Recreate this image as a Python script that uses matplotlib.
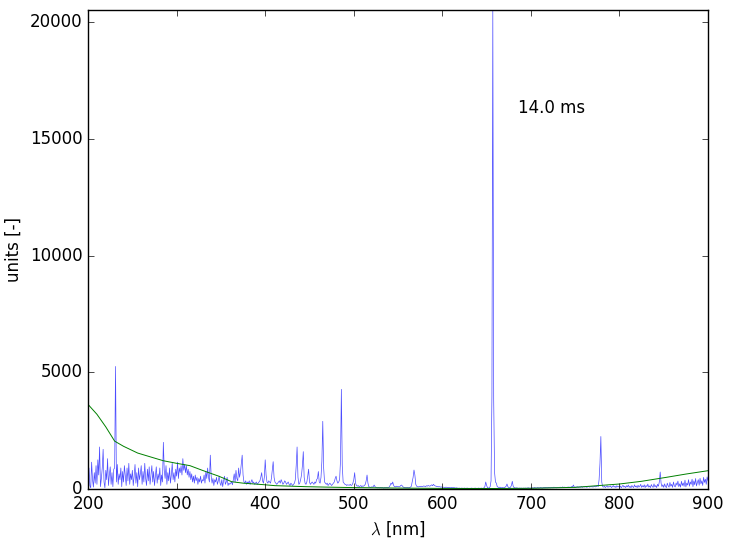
import numpy as np
import matplotlib
matplotlib.use('Agg')
import matplotlib.pyplot as plt

plt.style.use('classic')

# measured spectrum, 1 nm steps from 200 to 900 nm
counts_uv = [300, 900, 150, 50, 1150, 400, 80, 700, 250, 1000,
             200, 1250, 600, 1800, 100, 450, 900, 1700, 300, 50,
             800, 400, 1300, 150, 600, 950, 200, 700, 100, 850,
             900, 5250, 300, 1050, 200, 650, 400, 900, 100, 750,
             300, 1000, 550, 150, 900, 350, 1100, 200, 650, 400,
             800, 150, 550, 1050, 250, 700, 100, 900, 400, 650,
             1000, 200, 750, 300, 1100, 450, 150, 850, 350, 950,
             200, 600, 1000, 300, 750, 150, 550, 950, 250, 650,
             400, 900, 150, 600, 300, 2000, 800, 450, 1000, 200,
             700, 350, 900, 250, 600, 1100, 400, 700, 300, 850,
             550, 1150, 450, 900, 700, 1000, 600, 1300, 800, 1050,
             700, 1000, 600, 850, 500, 750, 400, 650, 300, 550,
             250, 600, 350, 500, 200, 450, 300, 550, 250, 400,
             350, 600, 250, 750, 450, 900, 500, 300, 1450, 550,
             250, 450, 150, 400, 300, 500, 200, 350, 550, 250,
             150, 400, 100, 350, 550, 200, 300, 500, 150, 250,
             200]
counts_vis = [250, 300, 180, 400, 650, 300, 800, 450, 350, 900,
              500, 700, 1100, 1450, 600, 300, 250, 350, 200, 300,
              250, 350, 200, 300, 400, 250, 300, 200, 250, 300,
              200, 250, 300, 350, 500, 700, 350, 250, 500, 1250,
              600, 300, 250, 350, 300, 250, 450, 800, 1170, 500,
              300, 250, 200, 250, 300, 350, 250, 400, 300, 200,
              250, 350, 300, 200, 250, 300, 200, 150, 250, 200,
              150, 200, 250, 400, 1000, 1800, 500, 200, 250, 400,
              600, 1000, 1600, 500, 250, 200, 300, 550, 850, 300,
              200, 250, 300, 250, 200, 300, 250, 400, 450, 750,
              300, 250, 500, 1200, 2900, 900, 300, 250, 200, 250,
              150, 200, 250, 200, 150, 200, 250, 300, 450, 550,
              350, 250, 300, 400, 1200, 4270, 1000, 300, 250, 200,
              200, 150, 180, 170, 160, 200, 150, 170, 250, 400,
              700, 250, 150, 120, 150, 100, 120, 150, 100, 130,
              120, 150, 200, 350, 600, 250, 100, 80, 70, 90,
              80, 100, 170, 100, 70, 60, 50, 60, 50, 60,
              50, 60, 50, 40, 60, 50, 60, 50, 70, 80,
              150, 250, 200, 300, 150, 100, 90, 120, 100, 110,
              90, 100, 150, 170, 120, 80, 60, 50, 60, 50,
              60, 50, 60, 80, 120, 300, 500, 814, 600, 200,
              120, 100, 90, 110, 100, 120, 100, 110, 130, 120,
              100, 140, 120, 150, 130, 120, 150, 180, 140, 200,
              150, 130, 120, 100, 110, 90, 100, 80, 90, 70,
              80, 70, 60, 80, 70, 60, 70, 60, 50, 60,
              60, 50, 60, 50, 40, 50, 40, 30, 40, 30,
              30, 40, 30, 30, 40, 30, 30, 40, 30, 30,
              30, 30, 40, 30, 30, 30, 40, 30, 30, 30,
              40, 30, 30, 40, 30, 30, 50, 100, 300, 150]
counts_nir = [60, 40, 50, 100, 350, 4000, 20520, 3800, 700, 300,
              250, 100, 80, 60, 80, 60, 50, 60, 50, 60,
              80, 120, 214, 100, 60, 50, 80, 150, 330, 120,
              60, 50, 40, 50, 40, 30, 40, 30, 40, 30,
              30, 40, 30, 40, 30, 40, 50, 40, 30, 40,
              40, 50, 40, 60, 50, 40, 50, 60, 40, 50,
              60, 50, 40, 60, 50, 70, 50, 60, 50, 70,
              60, 50, 70, 60, 50, 80, 60, 70, 50, 60,
              70, 60, 80, 60, 70, 90, 60, 80, 70, 60,
              80, 70, 90, 60, 80, 100, 90, 170, 80, 70,
              90, 80, 100, 70, 90, 80, 110, 70, 90, 100,
              80, 110, 70, 90, 120, 80, 100, 90, 110, 80,
              100, 120, 90, 110, 150, 100, 400, 1100, 2250, 300,
              100, 80, 120, 60, 100, 140, 70, 110, 90, 130,
              60, 100, 150, 80, 120, 60, 140, 90, 110, 70,
              130, 50, 110, 160, 80, 120, 60, 140, 90, 170,
              70, 120, 50, 150, 100, 60, 180, 90, 130, 60,
              160, 80, 120, 200, 70, 140, 90, 180, 60, 150,
              100, 210, 80, 130, 60, 190, 110, 70, 220, 90,
              150, 60, 200, 120, 300, 730, 250, 100, 180, 70,
              220, 110, 60, 250, 140, 80, 280, 120, 200, 70,
              300, 130, 90, 260, 160, 340, 100, 220, 80, 330,
              150, 260, 110, 380, 90, 250, 170, 400, 120, 300,
              200, 420, 100, 350, 180, 450, 130, 280, 400, 160,
              460, 220, 350, 150, 500, 280, 420, 200, 520, 350]

wavelength = np.arange(200, 901)
counts = np.array(counts_uv + counts_vis + counts_nir)

# fitted background
bg_wl = [200, 200.5, 210, 220, 230, 240, 256, 270, 285, 300, 315, 328, 340,
         347, 355, 362, 375, 388, 400, 411, 430, 445, 470, 500, 550, 600,
         650, 700, 750, 800, 825, 853, 875, 900]
bg = [0, 3600, 3200, 2660, 2050, 1830, 1540, 1380, 1210, 1100, 1000, 814,
      650, 557, 430, 313, 250, 214, 180, 143, 120, 100, 80, 60, 40, 25,
      20, 30, 70, 214, 330, 500, 640, 784]

label = '14.0 ms'

fig = plt.figure(figsize=(7.34, 5.46), dpi=100, facecolor='white')
ax = fig.add_axes([0.12, 0.1044, 0.8446, 0.8773])
ax.plot(wavelength, counts, color='b', lw=0.5, alpha=0.7)
ax.plot(bg_wl, bg, color='g', lw=0.7)

ax.set_xlim(200, 900)
ax.set_ylim(0, counts.max())
ax.set_yticks([0, 5000, 10000, 15000, 20000])
ax.set_xlabel(r'$\lambda$ [nm]')
ax.set_ylabel('units [-]')
ax.text(685, 16090, label, fontsize=12)

fig.savefig('out.png', dpi=100, facecolor='white')
